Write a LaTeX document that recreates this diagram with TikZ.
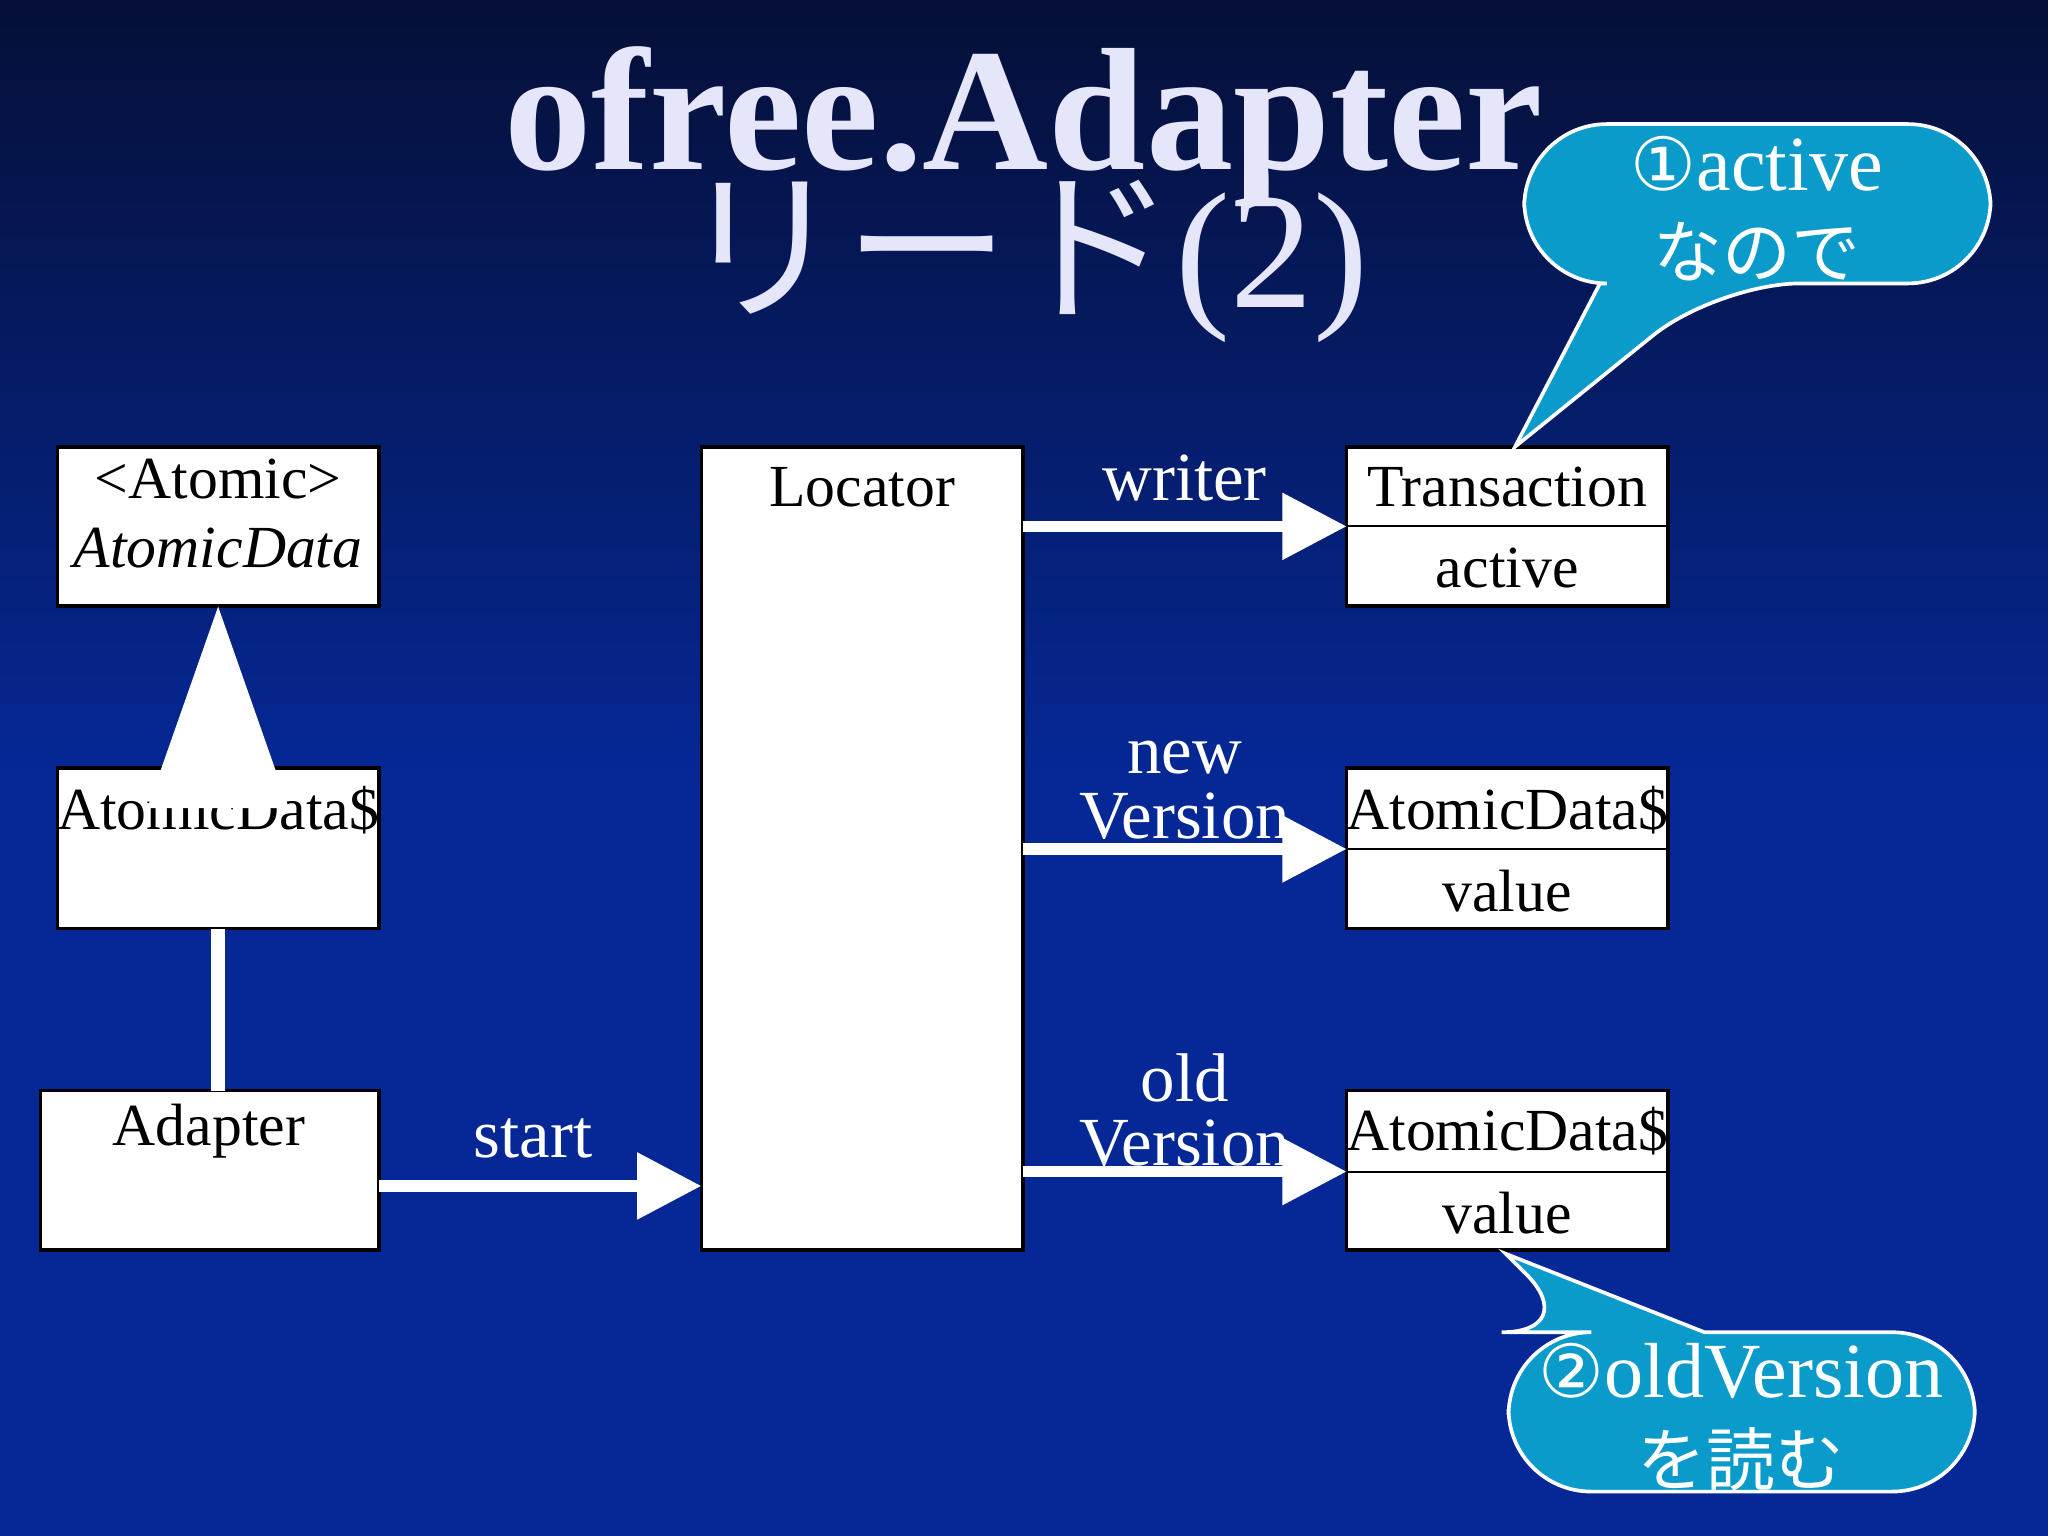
\documentclass[tikz,border=0pt]{standalone}
\usepackage{fontspec}
\setmainfont{Liberation Serif}
\newfontfamily\jp{Noto Sans CJK JP}
\newfontfamily\djv{DejaVu Sans}
\usetikzlibrary{arrows.meta}
\definecolor{callc}{HTML}{0A9BCB}
\definecolor{bgtop}{RGB}{5,15,55}
\definecolor{bgbot}{RGB}{5,40,150}
\definecolor{titc}{RGB}{230,230,250}
\tikzset{
 box/.style={draw=black,fill=white,line width=0.8pt,inner sep=0pt},
 lbl/.style={text=white,font=\fontsize{15}{17}\selectfont,align=center},
 btxt/.style={font=\fontsize{13}{15}\selectfont},
 conn/.style={draw=white,line width=2.5pt,-{Triangle[length=14pt,width=14pt,fill=white]}},
 call/.style={fill=callc,draw=white,line width=0.8pt,rounded corners=18pt},
 ctxt/.style={text=white,font=\fontsize{17}{19}\selectfont,align=center}
}
\begin{document}
\begin{tikzpicture}[x=0.01cm,y=-0.01cm]
\shade[top color=bgtop, bottom color=bgbot] (0,0) rectangle (1568,600);
\fill[bgbot] (0,599) rectangle (1568,1176);
\useasboundingbox (0,0) rectangle (1568,1176);
% title
\node[text=titc,font=\fontsize{38}{44}\selectfont\bfseries] (t1) at (784,97) {ofree.Adapter};
\node[text=titc,font=\fontsize{36}{44}\selectfont] (t2) at (784,200) {\jp リード\rmfamily(2)};
% boxes
\path[box] (44,342) rectangle (290,464);
\node[btxt,align=center] (ad) at (167,393) {<Atomic>\\\textit{AtomicData}};
\coordinate (adb) at (167,464);
\path[box] (44,588) rectangle (290,711);
\node[btxt] (ad2) at (167,620) {AtomicData\$};
\coordinate (ad2t) at (167,588); \coordinate (ad2b) at (167,711);
\path[box] (31,835) rectangle (290,957);
\node[btxt] (adp) at (160,866) {Adapter};
\coordinate (adpt) at (167,835); \coordinate (adpr) at (290,908);
\path[box] (537,342) rectangle (783,957);
\node[btxt] (loc) at (660,373) {Locator};
\coordinate (locl) at (537,908);
\coordinate (l1) at (783,403); \coordinate (l2) at (783,650); \coordinate (l3) at (783,897);
\path[box] (1031,342) rectangle (1277,464); \draw (1031,403)--(1277,403);
\node[btxt] (tr) at (1154,373) {Transaction};
\node[btxt] (tra) at (1154,435) {active};
\path[box] (1031,588) rectangle (1277,711); \draw (1031,650)--(1277,650);
\node[btxt] (nv) at (1154,620) {AtomicData\$};
\node[btxt] (nvv) at (1154,682) {value};
\path[box] (1031,835) rectangle (1277,957); \draw (1031,897)--(1277,897);
\node[btxt] (ov) at (1154,866) {AtomicData\$};
\node[btxt] (ovv) at (1154,929) {value};
\coordinate (r1) at (1031,403); \coordinate (r2) at (1031,650); \coordinate (r3) at (1031,897);
% connectors
\draw[white,line width=3pt] (adpt)--(ad2b);
\draw[white,line width=3pt,-{Triangle[length=44pt,width=30pt,fill=white]}] (ad2t)--(adb);
\draw[conn] (adpr)--(locl);
\draw[conn] (l1)--(r1);
\draw[conn] (l2)--(r2);
\draw[conn] (l3)--(r3);
\node[lbl] (ls) at (408,872) {start};
\node[lbl] (lw) at (907,366) {writer};
\node[lbl] (ln) at (907,605) {new\\[-3pt]Version};
\node[lbl] (lo) at (907,850) {old\\[-3pt]Version};
% callouts
\path[call] (1167,95) -- (1524,95) -- (1524,217) -- (1315,217)[sharp corners] -- (1160,342) -- (1225,217)[rounded corners=18pt] -- (1167,217) -- cycle;
\node[ctxt] (c1) at (1345,160) {{\djv\fontsize{16}{19}\selectfont ①}active\\{\jp\fontsize{15}{18}\selectfont なので}};
\path[call] (1155,1020) -- (1213,1020)[sharp corners] -- (1153,960) -- (1305,1020)[rounded corners=18pt] -- (1512,1020) -- (1512,1142) -- (1155,1142) -- cycle;
\node[ctxt] (c2) at (1333,1085) {{\djv\fontsize{16}{19}\selectfont ②}oldVersion\\{\jp\fontsize{15}{18}\selectfont を読む}};
\end{tikzpicture}
\end{document}
